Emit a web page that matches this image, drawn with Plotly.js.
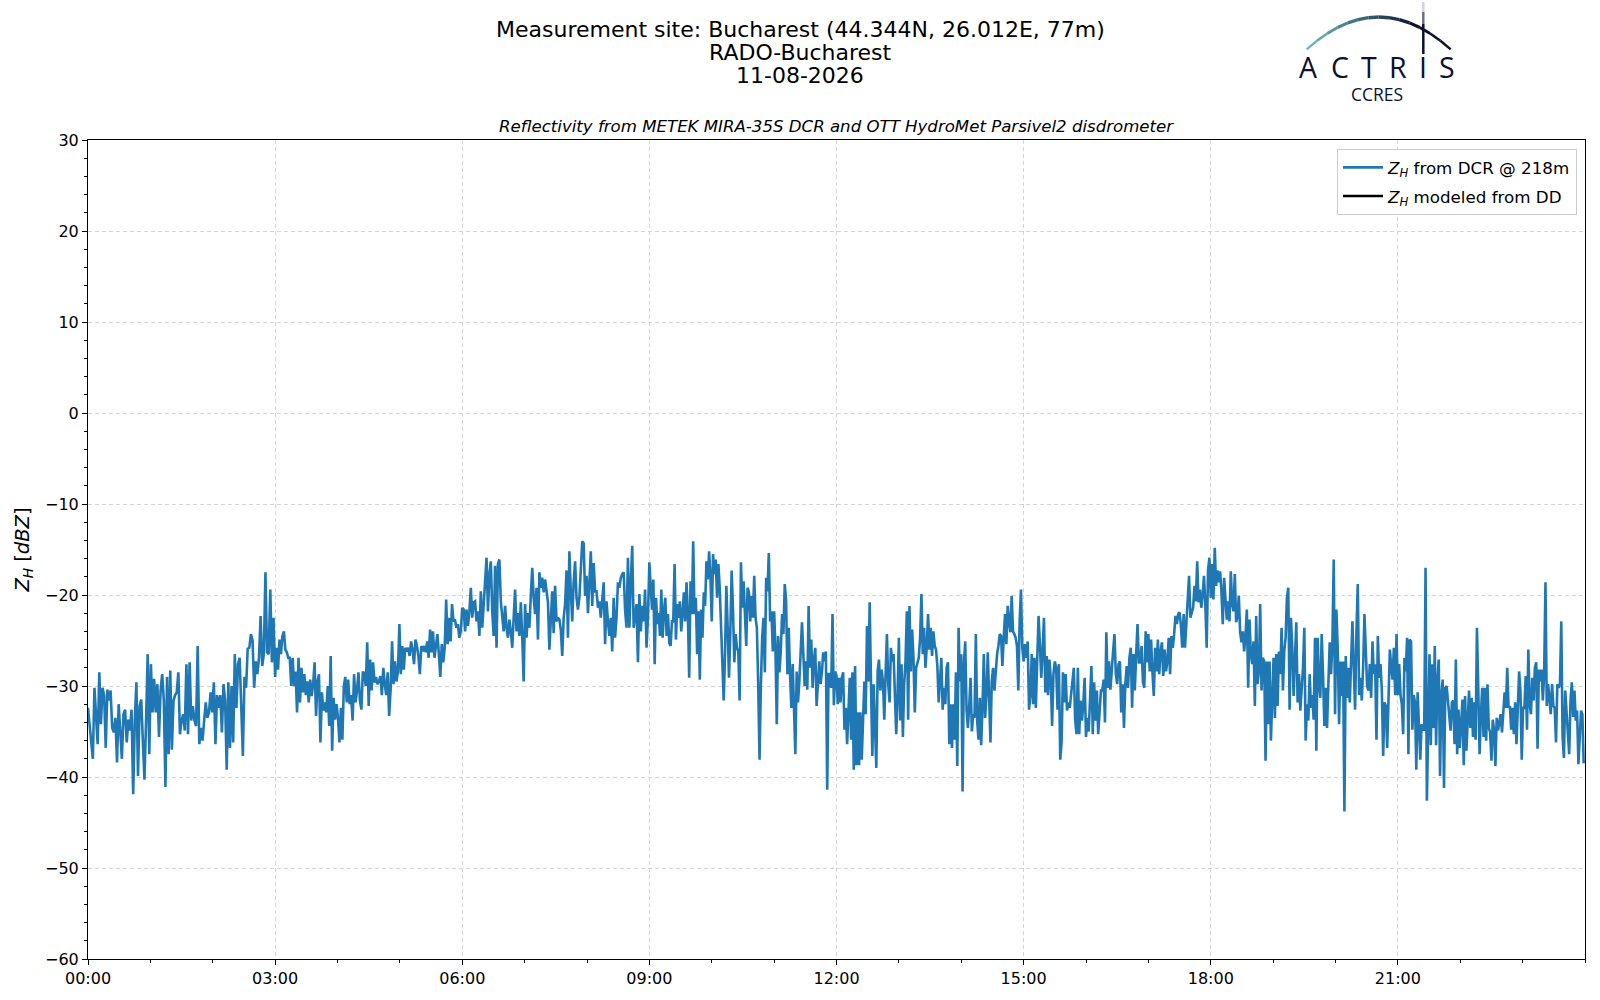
<!DOCTYPE html>
<html>
<head>
<meta charset="utf-8">
<script src="https://cdn.plot.ly/plotly-3.0.1.min.js"></script>
<style>
  html, body { margin: 0; padding: 0; background: #fff; }
  #chart { width: 1600px; height: 1000px; }
</style>
</head>
<body>
<div id="chart"></div>
<script>
const zh00 = [-32.4, -34.6, -36, -38, -30.2, -33.8, -36.4, -28.5, -34.2, -30.2,
  -31, -36.8, -30.4, -31.6, -30.5, -34.6, -35.1, -33.5, -38.4, -32,
  -34.9, -38, -33.1, -32.6, -36.2, -33.7, -34.9, -32.6, -41.9, -33.8,
  -29.6, -39.9, -32.2, -31.5, -36, -40.3, -33.8, -26.5, -37.5, -27.6,
  -32.9, -29.2, -32.9, -29.8, -35.6, -30.5, -28.7, -31.6, -41.1, -29,
  -37.5, -28.3, -37, -31.6, -31, -30.7, -28.5, -35.3, -33.8, -33.1,
  -34.9, -27.6, -35.3, -27.4, -33.8, -32.2, -33.8, -34.4, -25.6, -36.4,
  -34.6, -36, -33.8, -31.8, -33.5, -32.9, -30.7, -32.9, -29.6, -36.4,
  -31, -32.4, -31, -35.1, -29.8, -31.6, -39.2, -29.6, -36.8, -30,
  -36.2, -26.5, -32.4, -27.6, -26.9, -31.6, -37.7, -29, -30.2, -25.9,
  -25.8, -24.3, -25, -30.2, -27.3, -28.7, -26.9, -22.3, -27.8, -26.5,
  -17.5, -26.3, -26.5, -19.4, -27.4, -22.5];
const zh03 = [-29, -25.8, -28.2, -24.9, -26.5, -24.5, -24, -26, -26.3,
  -26.9, -26.9, -30, -26.9, -30, -28.4, -32.9, -26.9, -31.8, -28,
  -30.7, -28.7, -31, -29.5, -31.8, -29.3, -31.1, -29.8, -27.4, -33.3,
  -29.5, -28.7, -36.2, -30.7, -32.7, -31.8, -32.9, -30, -34.4, -26.7,
  -37.1, -31.3, -33.7, -32, -33.5, -36.2, -32.4, -35.9, -30, -29,
  -31.8, -29.3, -32, -31, -33.8, -28.7, -31.8, -30.5, -28.5, -31.6,
  -32.6, -28.4, -28.7, -30, -25.2, -32.2, -27.1, -30.5, -27.4, -29.6,
  -29, -29.8, -29.5, -28.9, -31, -28, -29.8, -31, -28.5, -33.3,
  -30.4, -25.1, -29.8, -27.3, -29.5, -28.4, -23.2, -28.7, -25.6, -28.2,
  -25.8, -26.2, -25.8, -26.7, -25.1, -26, -27.6, -24.9, -25.6, -26.7,
  -28.7, -25.6, -26.2, -25.6, -26.3, -25.1, -26.9, -23.8, -26.3, -24,
  -26.9, -25.6, -24.3, -26.5, -29, -25.4, -27.4, -25.8, -20.5, -25.4,
  -22.5, -25.1, -21, -22.9, -22.7, -23.6, -23.2, -24.7, -24];
const zh06 = [-21.4, -21.6, -24, -21.6, -23.4, -21.8, -19.2, -22.5, -20.8, -20.7,
  -22.9, -21.8, -24.5, -19.6, -23.6, -20.3, -18.5, -15.9, -21.8, -17.7,
  -16.3, -21.8, -24.5, -16.8, -25.8, -16.6, -16.1, -20.7, -22.9, -24,
  -21.2, -23.6, -24.7, -22.7, -24, -25.8, -22.5, -19.4, -24, -22,
  -24.5, -20.8, -24.7, -29.5, -21, -24.7, -22, -23.6, -20.1, -17,
  -20.3, -22.1, -19.2, -24.9, -17.5, -19.2, -18.1, -19.7, -18.3, -19.9,
  -20.8, -26, -22.5, -19.6, -24.2, -19, -22.9, -22.5, -22.7, -23.8,
  -26.7, -22.5, -21, -17.3, -24.7, -15.2, -19.6, -22.9, -18.6, -16.3,
  -20.3, -21.6, -20.3, -17.3, -14.1, -14.3, -20.1, -17.9, -22, -18.6,
  -15.2, -21.2, -16.5, -19.6, -19.6, -21.4, -20.7, -22.5, -20.8, -18.6,
  -25.4, -20.7, -22.9, -24.5, -22.5, -26.2, -20.3, -24.7, -22.5, -18.6,
  -19.2, -18.1, -17.7, -17.5, -21.6, -23.6, -15.9, -23.6, -18.5, -14.6,
  -23.6, -22.1, -21, -27.4, -19.9, -24, -21.2, -22.9, -19.4, -25.8, -22.5];
const zh09 = [-16.4, -19.9, -21.6, -18.3, -27.6, -20.3, -23.2, -22, -24.5, -19.4,
  -24.7, -21.8, -20.3, -24.5, -22.1, -25.3, -25.6, -22.9, -22.9, -16.6,
  -24.9, -21, -22.5, -20.7, -24, -22.1, -19.7, -22.9, -18.6, -22,
  -29.1, -18.5, -22.1, -14.1, -22.1, -20.3, -26.5, -21.8, -29.3, -21.6,
  -24.7, -19.7, -21.2, -16.3, -18.3, -15.2, -17.9, -22.9, -15.5, -17.7,
  -16.1, -20.3, -16.6, -19.2, -23.4, -27.3, -31.6, -26.5, -19, -23.6,
  -29.1, -24, -17.3, -21.6, -27.4, -24.3, -25.8, -26.2, -31.6, -16.4,
  -21.4, -18.5, -22.1, -25.6, -19.2, -19.7, -22.9, -20.1, -22.5, -17.9,
  -22.5, -23.6, -29.8, -38.1, -30, -24.7, -22.5, -28.5, -18.1, -19.6,
  -15.4, -22.9, -21.8, -26.2, -21.8, -25.8, -34.2, -24.5, -28.5, -26.2,
  -22.1, -24.3, -18.8, -20.5, -28.7, -23.6, -28.7, -32.4, -27.6, -33.1,
  -37.5, -28.4, -31.8, -29.5, -26.9, -23, -26.5, -30, -27.3, -30.4,
  -21.2, -28, -24.9, -30.2, -27.1, -25.8, -32.2, -29.1, -27.3, -29.8,
  -28.5, -26.3, -27.3, -26.2, -41.4, -28.7, -28.7, -30.2, -22.1, -32.1, -28.4];
const zh12 = [-28.9, -32, -29.1, -31.8, -29.1, -28.5, -34.8, -32.4, -36.4, -33.1,
  -29.1, -35.9, -28.5, -39.2, -27.8, -38.7, -32.9, -38.7, -32.9, -38.1,
  -33.1, -29.5, -33.1, -23.4, -29.5, -20.8, -29.8, -37.7, -29.8, -33.5,
  -39, -28.4, -27.1, -30.5, -28.2, -29.5, -33.7, -28.7, -24.3, -29.8,
  -31.8, -25.8, -27.3, -26.5, -31, -35.3, -31, -24.7, -33.8, -27.6,
  -35.6, -29.8, -27.3, -21.8, -33.7, -21.2, -28.4, -23.8, -26.9, -32.9,
  -28, -27.3, -26.9, -24.7, -19.9, -26.5, -23.6, -28, -25.8, -22.1,
  -26, -23.6, -26.7, -24, -25.6, -26, -27.8, -31.8, -28.7, -26.9,
  -32.6, -30.2, -32, -28, -27.4, -36.4, -32, -36.8, -32, -35.9,
  -28.5, -38.8, -23.6, -29.5, -26.5, -41.6, -27.6, -25.1, -32.6, -34.6,
  -32.2, -29.1, -35, -33.1, -33.5, -24.3, -33.8, -35.9, -31.3, -36.5,
  -32.4, -26.5, -33.5, -31, -26.3, -32.4, -36.2, -29.5, -28, -30.5,
  -28.4, -26.5, -25.6, -24.3, -24.5, -27.8, -24.7, -22.1, -25.4, -21.2,
  -22.9, -24.1, -20.1, -24, -24.3, -24.7, -25.6, -30.5, -22.9, -19.4, -25.8];
const zh15 = [-27.3, -25.4, -26.9, -25.1, -32.6, -31, -26.5, -32, -26.9, -32.4,
  -26.5, -22.3, -25.4, -29.1, -26.2, -22.5, -30.7, -26.7, -31, -27.1,
  -29.1, -34.4, -28.7, -27.3, -28, -32.6, -27.6, -38.1, -36.2, -28.5,
  -31.8, -28.7, -32.7, -31.8, -32.4, -31, -29.8, -28, -33.7, -35.3,
  -28, -35.3, -31.6, -33.8, -32, -29.1, -35.6, -33.5, -35, -31.8,
  -27.8, -35.3, -29.6, -33.8, -30.5, -35.3, -33.1, -30.5, -30.5, -29.3,
  -34, -24.1, -30.2, -27.3, -30.4, -28.7, -26.2, -24.3, -28.7, -29.8,
  -27.6, -27.3, -32.9, -29.8, -34.6, -29.8, -27.8, -30.2, -26.9, -25.8,
  -32.4, -26.5, -30.5, -26.5, -23.2, -27.4, -27.4, -25.6, -29.6, -30.2,
  -24, -27.4, -24.3, -28.4, -24.9, -28.5, -31.1, -25.8, -28.4, -24.9,
  -28.7, -26.2, -25.2, -28.9, -26, -28.4, -27.3, -24.7, -28.7, -24.5,
  -25.8, -24.3, -22.3, -23.2, -22.1, -21.9, -23.4, -25.8, -22.1, -25.8,
  -23.2, -21.8, -17.9, -22.5, -21.9, -21.4, -19, -20.7, -16.3, -20.8,
  -19.4, -21.4, -20.1, -17.9, -21, -25.8, -17.3, -15.9];
const zh18 = [-20.3, -16.6, -20.5, -14.8, -19, -17.3, -18.6, -17.4, -19.6, -23.2,
  -18.1, -20.1, -22.7, -20.7, -22.9, -17.4, -21, -21.8, -17.7, -23,
  -22.3, -20.1, -24.1, -25.2, -24, -26.2, -24.5, -21.6, -30.2, -22.7,
  -26.5, -27.6, -25.1, -32.2, -22.3, -29.8, -28.4, -21, -30.5, -26.9,
  -27.3, -38.2, -27.3, -34.2, -27.3, -36, -30.2, -26.9, -33.5, -26.5,
  -32.2, -26.2, -28.7, -23.6, -30.5, -26.2, -24.7, -20.3, -19.2, -32.6,
  -22.5, -25.8, -31.1, -26.9, -23, -31.8, -28.7, -32.7, -30.5, -28,
  -23.6, -36, -32, -33.8, -28.7, -32.4, -31, -33.7, -24.7, -37.1,
  -24.7, -29.8, -31.3, -24.3, -28.7, -34.4, -30.2, -34.6, -29.8, -25.2,
  -28.7, -25.4, -16.1, -33.1, -21.6, -25.8, -34.2, -27.3, -31.1, -27.3,
  -43.8, -26.7, -31.3, -28, -31.8, -27.3, -22.9, -28, -32.6, -24,
  -18.8, -31, -29.1, -31.6, -28, -22.1, -26.5, -30, -30.5, -27.6,
  -31.3, -25.1, -28.7, -27.6, -35.9, -24.5, -29.1, -27.6, -30.5, -37.7,
  -31.8, -32.2, -36.8, -30.4, -26, -27.8, -29.3, -25.8, -31, -24.3];
const zh21 = [-31, -27.6, -31, -32, -35.3, -26.9, -28.4, -24.7, -37.5, -24.9,
  -25.1, -34.8, -31, -31.8, -39.2, -30.7, -33.8, -38.1, -34.2, -34.8,
  -34.8, -17, -42.6, -32.1, -26.5, -36.5, -27.6, -34.6, -25.6, -36.5,
  -29.5, -27.1, -39.9, -31, -29.3, -41.2, -30.2, -30, -31.6, -33.8,
  -34.9, -31.8, -31.6, -36.4, -27.1, -37.5, -32.6, -36.8, -33.8, -31.5,
  -38.7, -31.1, -37.1, -33.1, -30.5, -34.6, -31.3, -35.6, -31.8, -35.9,
  -23.6, -30.2, -37.5, -33.1, -30.2, -35.6, -30.2, -36, -29.8, -34.6,
  -35.1, -38.2, -33.7, -34.8, -38.8, -33.5, -34.9, -34, -33.1, -35.1,
  -33.1, -30.7, -32.4, -28, -32.4, -32.2, -34.8, -32.4, -35.3, -31.8,
  -36.4, -33.1, -28.4, -30.5, -38.1, -32.4, -32.4, -28.9, -34.8, -26,
  -32, -33.1, -29.1, -31.6, -28, -27.4, -36.9, -28.2, -29.5, -28.2,
  -31.6, -28.7, -18.6, -32.2, -29.8, -31.3, -33.1, -29.8, -32.2, -32.4,
  -36.2, -29.8, -30.2, -29.8, -22.9, -35.7, -37.9, -30.5, -33.1, -34.6,
  -37.5, -31.6, -29.6, -33.4, -30.5, -33.8, -32.7, -38.6, -34.6, -32.7,
  -33.1, -38.5];

const blocks = [zh00, zh03, zh06, zh09, zh12, zh15, zh18, zh21];
const blockHours = 3;

const tickHours = [0, 3, 6, 9, 12, 15, 18, 21];
const tickLabels = ['00:00', '03:00', '06:00', '09:00', '12:00', '15:00', '18:00', '21:00'];

// the disdrometer series has no data for this day
const ddHours = [null];
const ddZh = [null];

// time in hours since midnight, each block sampled evenly
let hours = [];
let zh = [];
blocks.forEach((vals, k) => {
  let step = blockHours / vals.length;
  vals.forEach((v, i) => {
    hours.push(k * blockHours + i * step);
    zh.push(v);
  });
});

// plot area in figure pixels: x 88..1585, y 140..959
const L = 88, R = 15, T = 140, B = 41, W = 1600, H = 1000;
const pw = W - L - R, ph = H - T - B;
const px = x => (x - L) / pw;
const py = y => (H - B - y) / ph;

const navy = '#0c1130';

// ACTRIS logo arc, split into pieces to fake the teal -> navy gradient
let shapes = [];
const p0 = [1306.7, 49.3], pc = [1378.7, -15.3], p1 = [1450.7, 49.3];
const c0 = [111, 193, 193], c1 = [13, 17, 48];
const nSeg = 14;
const bez = t => [
  (1 - t) * (1 - t) * p0[0] + 2 * (1 - t) * t * pc[0] + t * t * p1[0],
  (1 - t) * (1 - t) * p0[1] + 2 * (1 - t) * t * pc[1] + t * t * p1[1]
];
for (let s = 0; s < nSeg; s++) {
  let a = bez(s / nSeg), b = bez((s + 1) / nSeg);
  let f = Math.min(1, (s + 0.5) / (nSeg * 0.75));
  let col = 'rgb(' + c0.map((c, j) => Math.round(c + (c1[j] - c) * f)).join(',') + ')';
  shapes.push({
    type: 'line', xref: 'paper', yref: 'paper',
    x0: px(a[0]), y0: py(a[1]), x1: px(b[0]), y1: py(b[1]),
    line: { color: col, width: 2.2 + 1.3 * Math.sin(Math.PI * (s + 0.5) / nSeg) }
  });
}
// vertical stroke of the logo, fading to white at the top
[[2, 12, '#d0d3dc'], [12, 24, '#6b7089'], [24, 54, navy]].forEach(([ya, yb, col]) => {
  shapes.push({
    type: 'line', xref: 'paper', yref: 'paper',
    x0: px(1423.3), y0: py(ya), x1: px(1423.3), y1: py(yb),
    line: { color: col, width: 2.5 }
  });
});

let annotations = [
  { text: 'Measurement site: Bucharest (44.344N, 26.012E, 77m)', y: py(29) },
  { text: 'RADO-Bucharest', y: py(52) },
  { text: '11-08-2026', y: py(75) }
].map(a => ({
  text: a.text, xref: 'paper', yref: 'paper', x: px(800), y: a.y,
  showarrow: false, xanchor: 'center', yanchor: 'middle', height: 22,
  font: { size: 22, color: '#000' }
}));

annotations.push({
  text: '<i>Reflectivity from METEK MIRA-35S DCR and OTT HydroMet Parsivel2 disdrometer</i>',
  xref: 'paper', yref: 'paper', x: 0.5, y: py(126),
  showarrow: false, xanchor: 'center', yanchor: 'middle',
  font: { size: 16.6, color: '#000' }
});

// logo letters
const logoLetters = ['A', 'C', 'T', 'R', 'I', 'S'];
const logoX = [1307.5, 1340, 1369, 1398, 1423.3, 1446.5];
logoLetters.forEach((ch, i) => {
  annotations.push({
    text: ch, xref: 'paper', yref: 'paper', x: px(logoX[i]), y: py(66.5),
    showarrow: false, xanchor: 'center', yanchor: 'middle', height: 24,
    font: { size: 28.5, color: navy, family: 'Open Sans' }
  });
});
annotations.push({
  text: 'CCRES', xref: 'paper', yref: 'paper', x: px(1376.7), y: py(94.5),
  showarrow: false, xanchor: 'center', yanchor: 'middle', height: 16,
  font: { size: 17.5, color: navy, family: 'Open Sans' }
});

const traces = [
  {
    type: 'scatter', mode: 'lines', x: hours, y: zh,
    name: '<i>Z<sub>H</sub></i> from DCR @ 218m', legendgroup: 'dcr',
    line: { color: '#1f77b4', width: 2.6 }
  },
  {
    type: 'scatter', mode: 'lines', x: ddHours, y: ddZh,
    name: '<i>Z<sub>H</sub></i> modeled from DD', legendgroup: 'dd',
    line: { color: '#000', width: 2.6 },
    showlegend: true
  }
];

const axisCommon = {
  showline: true, linecolor: '#000', linewidth: 1, mirror: true,
  ticks: 'outside', ticklen: 5, tickwidth: 1, tickcolor: '#000',
  showgrid: true, gridcolor: '#d4d4d4', gridwidth: 1, griddash: '4px,3px',
  zeroline: false, tickfont: { size: 16, color: '#000' }
};

const layout = {
  width: W, height: H,
  margin: { l: L, r: R, t: T, b: B, pad: 0 },
  paper_bgcolor: '#fff', plot_bgcolor: '#fff',
  font: { family: 'DejaVu Sans', color: '#000' },
  showlegend: true,
  legend: {
    x: px(1577), y: py(149), xanchor: 'right', yanchor: 'top',
    bgcolor: 'rgba(255,255,255,0.9)', bordercolor: '#cccccc', borderwidth: 1,
    font: { size: 16.7 }, tracegroupgap: 4, itemwidth: 40
  },
  xaxis: Object.assign({}, axisCommon, {
    range: [0, 24],
    tickmode: 'array', tickvals: tickHours, ticktext: tickLabels,
    minor: { dtick: 1, tick0: 0, ticklen: 3, tickcolor: '#000', showgrid: false }
  }),
  yaxis: Object.assign({}, axisCommon, {
    range: [-60, 30], dtick: 10, tick0: 0,
    minor: { dtick: 2, tick0: 0, ticklen: 3, tickcolor: '#000', showgrid: false },
    title: { text: '<i>Z<sub>H</sub></i> [<i>dBZ</i>]', font: { size: 19.5 }, standoff: 10 }
  }),
  shapes: shapes,
  annotations: annotations
};

Plotly.newPlot('chart', traces, layout, { displayModeBar: false, staticPlot: true });
</script>
</body>
</html>
